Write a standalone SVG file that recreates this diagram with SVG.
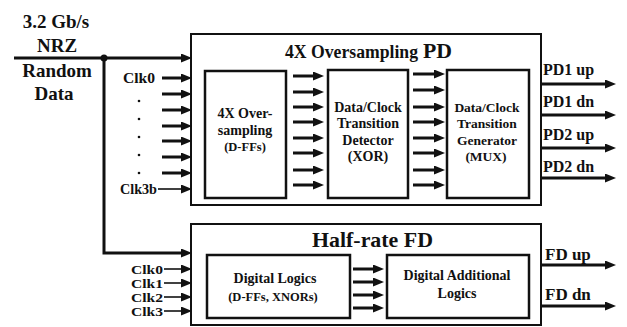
<svg xmlns="http://www.w3.org/2000/svg" width="627" height="327" viewBox="0 0 627 327">
  <style>
    text { font-family: "Liberation Serif", "DejaVu Serif", "Noto Serif", serif; font-weight: 700; fill: #111; }
    .outer { fill: #fff; stroke: #111; stroke-width: 2; }
    .inner { fill: #fff; stroke: #111; stroke-width: 2.5; }
    .arr { fill: none; stroke: #111; stroke-width: 3; marker-end: url(#head); }
    .thin { fill: none; stroke: #111; stroke-width: 1.6; marker-end: url(#head); }
    .c { text-anchor: middle; }
  </style>
  <defs>
    <marker id="head" markerUnits="userSpaceOnUse" markerWidth="11" markerHeight="9" refX="4" refY="4.5" orient="auto">
      <path d="M0,0 L11,4.5 L0,9 z" fill="#111"/>
    </marker>
  </defs>

  <rect width="627" height="327" fill="#fff"/>

  <!-- input label -->
  <g id="input-label" font-family="Liberation Serif, DejaVu Serif, serif">
    <text class="c" x="56" y="28" font-size="19">3.2 Gb/s</text>
    <text class="c" x="57" y="52" font-size="19">NRZ</text>
    <text class="c" x="57" y="77" font-size="19">Random</text>
    <text class="c" x="54" y="100" font-size="19">Data</text>
  </g>

  <!-- 4X oversampling phase detector -->
  <g id="pd">
    <rect class="outer" x="191" y="34" width="350" height="171"/>
    <text x="285" y="58" font-size="18" textLength="133" lengthAdjust="spacingAndGlyphs">4X Oversampling</text>
    <text x="423" y="58" font-size="22" textLength="29" lengthAdjust="spacingAndGlyphs">PD</text>
  </g>
  <g id="oversampling">
    <rect class="inner" x="205" y="71" width="81" height="127"/>
    <text class="c" x="245" y="118" font-size="14">4X Over-</text>
    <text class="c" x="245" y="135" font-size="14">sampling</text>
    <text class="c" x="245" y="151" font-size="12.5">(D-FFs)</text>
  </g>
  <g id="detector">
    <rect class="inner" x="328" y="70" width="80" height="128"/>
    <text class="c" x="368" y="112" font-size="14">Data/Clock</text>
    <text class="c" x="368" y="128" font-size="14">Transition</text>
    <text class="c" x="368" y="145" font-size="14">Detector</text>
    <text class="c" x="368" y="161" font-size="14">(XOR)</text>
  </g>
  <g id="generator">
    <rect class="inner" x="447" y="70" width="82" height="128"/>
    <text class="c" x="487" y="112" font-size="13.5">Data/Clock</text>
    <text class="c" x="487" y="128" font-size="13.5">Transition</text>
    <text class="c" x="487" y="145" font-size="13.5">Generator</text>
    <text class="c" x="486" y="161" font-size="13.5">(MUX)</text>
  </g>

  <!-- half-rate frequency detector -->
  <g id="fd">
    <rect class="outer" x="191" y="224" width="350" height="101"/>
    <text x="312" y="247" font-size="22" textLength="121" lengthAdjust="spacingAndGlyphs">Half-rate FD</text>
  </g>
  <g id="digital-logics">
    <rect class="inner" x="207" y="255" width="143" height="63"/>
    <text class="c" x="275" y="283" font-size="14">Digital Logics</text>
    <text class="c" x="273" y="301" font-size="12.5">(D-FFs, XNORs)</text>
  </g>
  <g id="additional-logics">
    <rect class="inner" x="387" y="255" width="142" height="63"/>
    <text class="c" x="457" y="280" font-size="14">Digital Additional</text>
    <text class="c" x="457" y="298" font-size="14">Logics</text>
  </g>

  <!-- clock labels -->
  <g id="clocks-pd">
    <text x="123" y="83" font-size="14.5" textLength="32" lengthAdjust="spacingAndGlyphs">Clk0</text>
    <circle cx="139" cy="101" r="1.3" fill="#111"/>
    <circle cx="139" cy="119" r="1.3" fill="#111"/>
    <circle cx="139" cy="137" r="1.3" fill="#111"/>
    <circle cx="139" cy="155" r="1.3" fill="#111"/>
    <circle cx="139" cy="173" r="1.3" fill="#111"/>
    <text x="120" y="194" font-size="14.5" textLength="37" lengthAdjust="spacingAndGlyphs">Clk3b</text>
  </g>
  <g id="clocks-fd">
    <text x="131" y="273.5" font-size="13" textLength="32" lengthAdjust="spacingAndGlyphs">Clk0</text>
    <text x="131" y="287.5" font-size="13" textLength="32" lengthAdjust="spacingAndGlyphs">Clk1</text>
    <text x="131" y="301.5" font-size="13" textLength="32" lengthAdjust="spacingAndGlyphs">Clk2</text>
    <text x="131" y="315.5" font-size="13" textLength="32" lengthAdjust="spacingAndGlyphs">Clk3</text>
  </g>

  <!-- output labels -->
  <g id="outputs">
    <text x="543" y="75" font-size="16">PD1 up</text>
    <text x="543" y="107" font-size="16">PD1 dn</text>
    <text x="543" y="140" font-size="16">PD2 up</text>
    <text x="543" y="172" font-size="16">PD2 dn</text>
    <text x="545" y="260" font-size="17">FD up</text>
    <text x="545" y="300" font-size="17">FD dn</text>
  </g>

  <g id="connectors">
    <!-- data input and branch -->
    <path class="arr" d="M14,58 H185"/>
    <circle cx="104" cy="58" r="3.5" fill="#111"/>
    <path class="arr" d="M104,58 V253 H185"/>

    <!-- clock phases into PD -->
    <path class="arr" d="M162,78 H185"/>
    <path class="arr" d="M162,94 H185"/>
    <path class="arr" d="M162,110 H185"/>
    <path class="arr" d="M162,126 H185"/>
    <path class="arr" d="M162,141 H185"/>
    <path class="arr" d="M162,157 H185"/>
    <path class="arr" d="M162,173 H185"/>
    <path class="thin" d="M158,189 H185"/>

    <!-- oversampler to detector -->
    <path class="arr" d="M293,76 H317"/>
    <path class="arr" d="M293,92 H317"/>
    <path class="arr" d="M293,107 H317"/>
    <path class="arr" d="M293,122 H317"/>
    <path class="arr" d="M293,138 H317"/>
    <path class="arr" d="M293,153 H317"/>
    <path class="arr" d="M293,170 H317"/>
    <path class="arr" d="M293,185 H317"/>

    <!-- detector to generator -->
    <path class="arr" d="M413,74 H438"/>
    <path class="arr" d="M413,90 H438"/>
    <path class="arr" d="M413,107 H438"/>
    <path class="arr" d="M413,122 H438"/>
    <path class="arr" d="M413,138 H438"/>
    <path class="arr" d="M413,153 H438"/>
    <path class="arr" d="M413,170 H438"/>
    <path class="arr" d="M413,185 H438"/>

    <!-- PD outputs -->
    <path class="arr" d="M541,84 H609"/>
    <path class="arr" d="M541,115 H609"/>
    <path class="arr" d="M541,148 H609"/>
    <path class="arr" d="M541,178 H609"/>

    <!-- clock phases into FD -->
    <path class="thin" d="M164,269 H185"/>
    <path class="thin" d="M164,283 H185"/>
    <path class="thin" d="M164,297 H185"/>
    <path class="thin" d="M164,311 H185"/>

    <!-- digital logics to additional logics -->
    <path class="arr" d="M353,269 H377"/>
    <path class="arr" d="M353,282 H377"/>
    <path class="arr" d="M353,295 H377"/>
    <path class="arr" d="M353,308 H377"/>

    <!-- FD outputs -->
    <path class="arr" d="M541,265 H609"/>
    <path class="arr" d="M541,306 H609"/>
  </g>
</svg>
